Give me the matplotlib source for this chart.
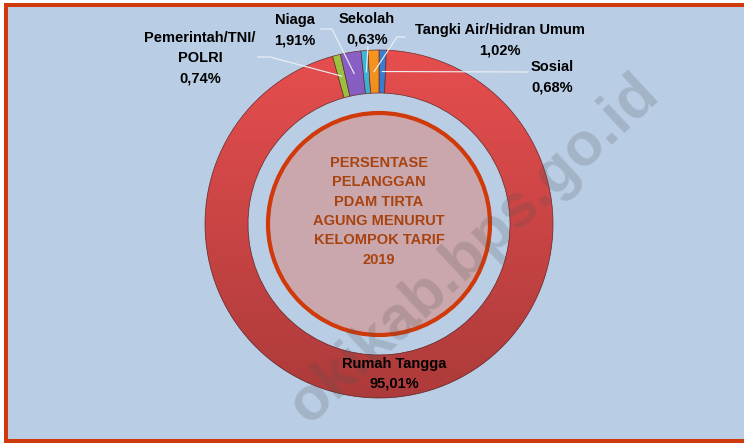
import matplotlib
matplotlib.use("Agg")
import matplotlib.pyplot as plt
from matplotlib.patches import Rectangle, Circle
import numpy as np

plt.rcParams['font.family'] = ['Liberation Sans', 'DejaVu Sans']

# --- data (clockwise from 12 o'clock, as in the original Excel chart) ---
categories = ["Sosial", "Rumah Tangga", "Pemerintah/TNI/\nPOLRI", "Niaga", "Sekolah",
              "Tangki Air/Hidran Umum"]
shares = [0.68, 95.01, 0.74, 1.91, 0.63, 1.02]
share_labels = ["0,68%", "95,01%", "0,74%", "1,91%", "0,63%", "1,02%"]
colors = ["#3b7fd4", "#e64e4e", "#9cc440", "#8a60c6", "#3db6da", "#f7941e"]
title_lines = ["PERSENTASE", "PELANGGAN", "PDAM TIRTA", "AGUNG MENURUT",
               "KELOMPOK TARIF", "2019"]
watermark = "okikab.bps.go.id"

# --- layout (pixel units, y measured from the top of the picture) ---
W, H = 744, 443
def py(y):
    return H - y

cx, cy = 379, py(224)
r_out, r_in = 174, 131
r_mid = (r_out + r_in) / 2

# y of the first text line of each label, x of its centre
label_pos = [(552, 67), (394, 364), (200, 38), (295, 20), (367, 19), (500, 30)]
label_step = 20
leader_start = [
    [(528, 72)],
    None,
    [(258, 57), (270, 57)],
    [(321, 29), (332, 29)],
    [(368, 47)],
    [(405, 37), (397, 37)],
]

fig = plt.figure(figsize=(W / 100, H / 100), dpi=100)
fig.patch.set_facecolor("white")
ax = fig.add_axes([0, 0, 1, 1])
ax.axis("off")

# chart area with orange frame
ax.add_patch(Rectangle((6, py(441)), 800, 436, facecolor="#b9cde5",
                       edgecolor="#cf3a0c", linewidth=2.9, zorder=0))

wedges, _ = ax.pie(shares, colors=colors, startangle=90, counterclock=False,
                   radius=r_out, center=(cx, cy), frame=True,
                   wedgeprops=dict(width=r_out - r_in, edgecolor="#6a2c2c", linewidth=0.5))

# soft top-to-bottom shading on the ring
grad = np.zeros((256, 1, 4))
grad[:, 0, 3] = np.linspace(0.0, 0.25, 256)
for w in wedges:
    im = ax.imshow(grad, extent=(cx - r_out, cx + r_out, cy - r_out, cy + r_out),
                   origin="upper", aspect="auto", interpolation="bilinear", zorder=2)
    im.set_clip_path(w)

# inner disc with title
ax.add_patch(Circle((cx, cy), 111, facecolor="#caa7ac", edgecolor="#d03a0a",
                    linewidth=3, zorder=3))
for i, line in enumerate(title_lines):
    ax.text(cx, py(163 + i * 19.3), line, ha="center", va="center", fontsize=10.5,
            fontweight="bold", color="#a8430f", zorder=4)

# labels and leader lines
for w, name, val, pos, start in zip(wedges, categories, share_labels, label_pos, leader_start):
    lines = name.split("\n") + [val]
    for i, line in enumerate(lines):
        ax.text(pos[0], py(pos[1] + i * label_step), line, ha="center", va="center",
                fontsize=10.5, fontweight="bold", color="black", zorder=6)
    if start is None:
        continue
    ang = np.deg2rad((w.theta1 + w.theta2) / 2)
    end = (cx + r_mid * np.cos(ang), cy + r_mid * np.sin(ang))
    xs = [p[0] for p in start] + [end[0]]
    ys = [py(p[1]) for p in start] + [end[1]]
    ax.plot(xs, ys, color="#eef2f7", linewidth=0.8, zorder=5)

# site watermark
ax.text(661, py(97), watermark, ha="right", va="baseline", rotation=43,
        rotation_mode="anchor", fontsize=44, fontweight="bold",
        color="#505050", alpha=0.2, zorder=5)

ax.set_xlim(0, W)
ax.set_ylim(0, H)
ax.set_aspect("auto")

fig.savefig("out.png", dpi=100)
